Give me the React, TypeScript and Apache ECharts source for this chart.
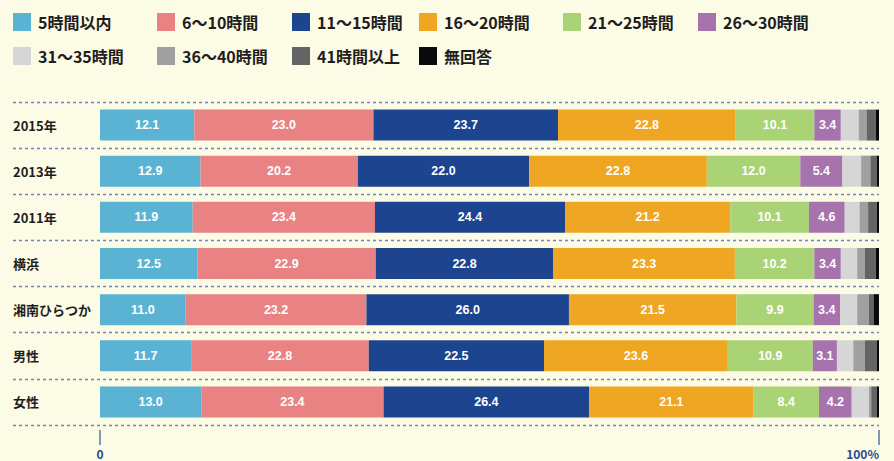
import React, { useEffect, useRef } from "react";
import * as echarts from "echarts";

const categories = ["2015年", "2013年", "2011年", "横浜", "湘南ひらつか", "男性", "女性"];
const seriesNames = [
  "5時間以内",
  "6〜10時間",
  "11〜15時間",
  "16〜20時間",
  "21〜25時間",
  "26〜30時間",
  "31〜35時間",
  "36〜40時間",
  "41時間以上",
  "無回答",
];
const h0_5 = [12.1, 12.9, 11.9, 12.5, 11.0, 11.7, 13.0];
const h6_10 = [23.0, 20.2, 23.4, 22.9, 23.2, 22.8, 23.4];
const h11_15 = [23.7, 22.0, 24.4, 22.8, 26.0, 22.5, 26.4];
const h16_20 = [22.8, 22.8, 21.2, 23.3, 21.5, 23.6, 21.1];
const h21_25 = [10.1, 12.0, 10.1, 10.2, 9.9, 10.9, 8.4];
const h26_30 = [3.4, 5.4, 4.6, 3.4, 3.4, 3.1, 4.2];
const h31_35 = [2.3, 2.4, 1.9, 2.1, 2.2, 2.1, 2.2];
const h36_40 = [1.0, 1.2, 1.1, 1.0, 1.5, 1.5, 0.3];
const h41 = [1.2, 0.8, 1.1, 1.4, 0.6, 1.5, 0.7];
const noAnswer = [0.4, 0.3, 0.3, 0.4, 0.7, 0.3, 0.3];
const seriesData = [h0_5, h6_10, h11_15, h16_20, h21_25, h26_30, h31_35, h36_40, h41, noAnswer];
const colors = [
  "#5bb3d3",
  "#e88283",
  "#1c448f",
  "#eea623",
  "#a9d375",
  "#a673ad",
  "#d6d6d6",
  "#a0a0a0",
  "#646464",
  "#0a0a0a",
];
const labeled = [true, true, true, true, true, true, false, false, false, false];
const xTicks = ["0", "100%"];

const legendPos = [
  [13, 13], [157, 13], [292, 13], [419, 13], [563, 13], [698, 13],
  [13, 47], [157, 47], [292, 47], [419, 47],
];

const FONT = "'Noto Sans CJK JP', 'Noto Sans', sans-serif";

export default function App() {
  const ref = useRef<HTMLDivElement>(null);
  useEffect(() => {
    if (!ref.current) return;
    const chart = echarts.init(ref.current, undefined, { renderer: "svg" });
    const option: any = {
      animation: false,
      backgroundColor: "#fcfbe5",
      color: colors,
      legend: seriesNames.map((n, i) => ({
        data: [n],
        left: legendPos[i][0],
        top: legendPos[i][1],
        padding: 0,
        icon: "rect",
        itemWidth: 18,
        itemHeight: 18,
        selectedMode: false,
        textStyle: {
          fontFamily: FONT,
          fontSize: 16,
          fontWeight: "bold",
          color: "#1e1e1e",
          padding: [0, 0, 0, 2],
        },
      })),
      grid: [
        { left: 100, right: 15, top: 102, height: 323, outerBoundsMode: "none", containLabel: false },
        { left: 13, right: 15, top: 102, height: 323, outerBoundsMode: "none", containLabel: false },
      ],
      xAxis: [
        {
          gridIndex: 0,
          type: "value",
          min: 0,
          max: 100,
          interval: 100,
          offset: 5,
          axisLine: { show: false },
          axisTick: { show: true, length: 15, lineStyle: { color: "#5a76b3", width: 1.5 } },
          splitLine: { show: false },
          axisLabel: {
            margin: 17,
            fontFamily: FONT,
            fontSize: 12,
            fontWeight: "bold",
            color: "#2b4a8e",
            alignMaxLabel: "right",
            formatter: (v: number) => (v === 0 ? xTicks[0] : xTicks[1]),
          },
        },
        { gridIndex: 1, type: "value", min: 0, max: 100, show: false },
      ],
      yAxis: [
        {
          gridIndex: 0,
          type: "category",
          inverse: true,
          data: categories,
          axisLine: { show: false },
          axisTick: { show: false },
          splitLine: { show: false },
          axisLabel: {
            align: "left",
            margin: 87,
            fontFamily: FONT,
            fontSize: 13,
            fontWeight: "bold",
            color: "#1e1e1e",
          },
        },
        {
          gridIndex: 1,
          type: "category",
          inverse: true,
          data: categories,
          axisLine: { show: false },
          axisTick: { show: false },
          axisLabel: { show: false },
          splitLine: {
            show: true,
            lineStyle: { color: "#6c84bc", width: 1.3, type: [3, 3] },
          },
        },
      ],
      series: seriesNames.map((n, i) => ({
        name: n,
        type: "bar",
        stack: "total",
        xAxisIndex: 0,
        yAxisIndex: 0,
        barWidth: 31,
        data: seriesData[i],
        itemStyle: { color: colors[i] },
        label: {
          show: labeled[i],
          position: "inside",
          color: "#ffffff",
          fontFamily: "'Liberation Sans', Arial, sans-serif",
          fontSize: 12.5,
          fontWeight: "bold",
          formatter: (p: any) => Number(p.value).toFixed(1),
        },
      })),
    };
    chart.setOption(option);
    return () => chart.dispose();
  }, []);
  return (
    <div
      ref={ref}
      style={{ position: "fixed", left: 0, top: 0, width: 894, height: 461, background: "#fcfbe5" }}
    />
  );
}
